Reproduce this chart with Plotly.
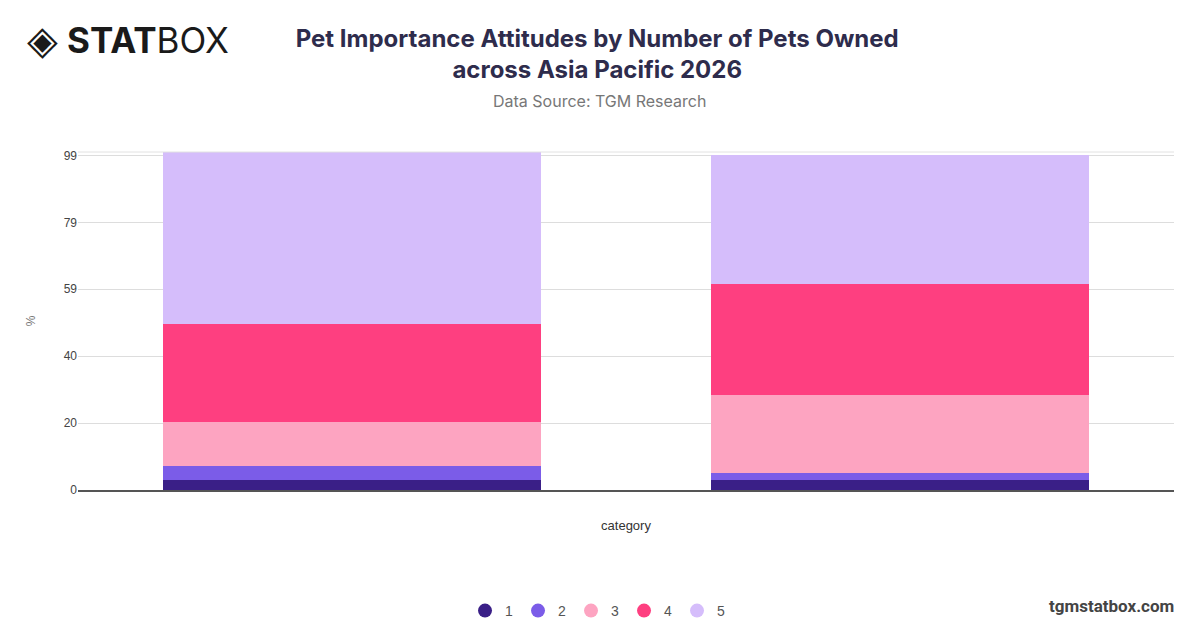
import plotly.graph_objects as go

# data
categories = ["One pet", "Two or more pets"]
levels = ["1", "2", "3", "4", "5"]
values_1 = [3, 3]
values_2 = [4, 2]
values_3 = [13, 23]
values_4 = [29, 33]
values_5 = [51, 38]
colors = ["#3a1f87", "#7b5ce8", "#fda4c1", "#fe3f80", "#d5bdfb"]
tick_vals = [0, 19.8, 39.6, 59.4, 79.2, 99]
tick_text = ["0", "20", "40", "59", "79", "99"]

series = [values_1, values_2, values_3, values_4, values_5]

fig = go.Figure()
for name, vals, col in zip(levels, series, colors):
    fig.add_trace(go.Bar(x=categories, y=vals, name=name, marker_color=col,
                         marker_line_width=0, showlegend=False))
    # circle legend entries
    fig.add_trace(go.Scatter(x=[None], y=[None], mode="markers", name=name,
                             marker=dict(symbol="circle", size=14, color=col)))

# page body has an 8px margin, so margins are trimmed by that much
fig.update_layout(
    barmode="stack",
    bargap=0.31,
    width=1200, height=628,
    plot_bgcolor="white", paper_bgcolor="white",
    margin=dict(l=70, r=34, t=144, b=146, autoexpand=False),
    font=dict(family="Liberation Sans, Arial", size=12, color="#555555"),
    title=dict(
        text="<b>Pet Importance Attitudes by Number of Pets Owned<br>across Asia Pacific 2026</b>",
        x=0.491, xanchor="center", y=0.938, yanchor="top",
        font=dict(family="Inter, Roboto, sans-serif", size=24, color="#2e2c4c"),
    ),
    legend=dict(orientation="h", x=0.474, xanchor="center", y=-0.358, yanchor="middle",
                font=dict(size=14, color="#555555"),
                itemwidth=30, traceorder="normal"),
)

fig.update_xaxes(showticklabels=False, showgrid=False, showline=True,
                 linecolor="#555555", linewidth=1.5,
                 title=dict(text="category", standoff=30,
                            font=dict(size=13, color="#333333")))
fig.update_yaxes(range=[0, 100], tickvals=tick_vals, ticktext=tick_text,
                 showgrid=True, gridcolor="#dddddd", gridwidth=1, zeroline=False,
                 ticks="", tickfont=dict(size=12, color="#444444"),
                 title=dict(text="%", standoff=25, font=dict(size=12, color="#777777")))

# light line along the top of the plot area
fig.add_shape(type="line", xref="paper", yref="paper", x0=0, x1=1, y0=1, y1=1,
              line=dict(color="#e2e2e2", width=1))

fig.add_annotation(text="Data Source: TGM Research", xref="paper", yref="paper",
                   x=0.476, y=1.151, xanchor="center", yanchor="middle", showarrow=False,
                   font=dict(family="Inter, Roboto, sans-serif", size=16, color="#777777"))
fig.add_annotation(text="◈", xref="paper", yref="paper",
                   x=-0.048, y=1.331, xanchor="left", yanchor="middle", showarrow=False,
                   font=dict(family="DejaVu Sans", size=40, color="#1a1a1a"))
fig.add_annotation(text="<b>STAT</b>BOX", xref="paper", yref="paper",
                   x=-0.012, y=1.331, xanchor="left", yanchor="middle", showarrow=False,
                   font=dict(family="Inter, Roboto, sans-serif", size=35, color="#1a1a1a"))
fig.add_annotation(text="<b>tgmstatbox.com</b>", xref="paper", yref="paper",
                   x=1.002, y=-0.343, xanchor="right", yanchor="middle", showarrow=False,
                   font=dict(family="Roboto, sans-serif", size=17, color="#444444"))

fig.write_html("out.html")
